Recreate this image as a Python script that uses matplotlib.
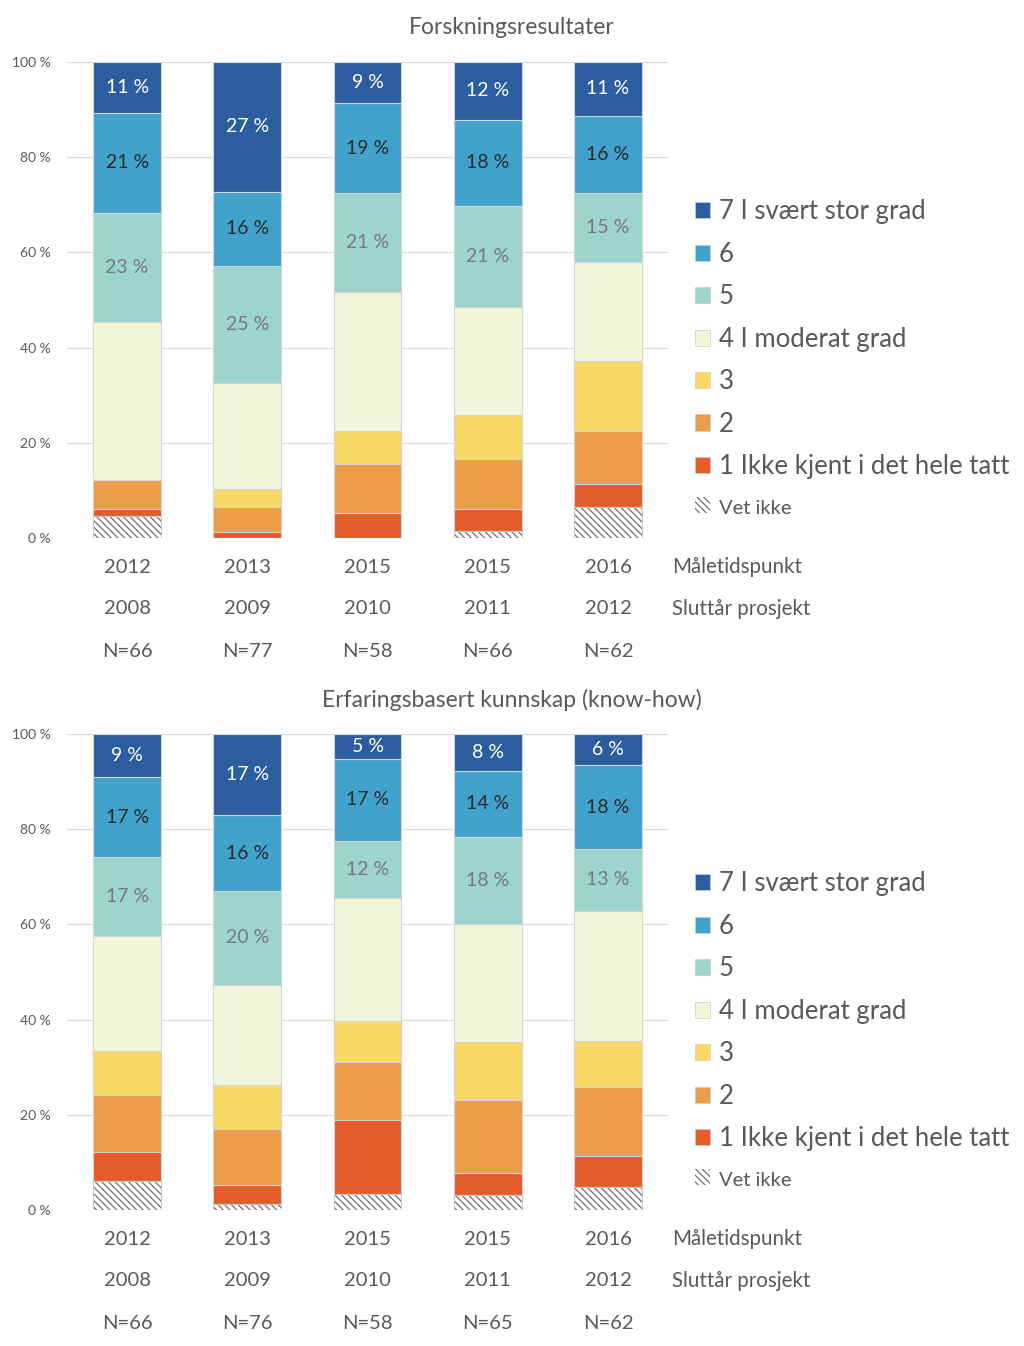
import matplotlib
matplotlib.use("Agg")
import matplotlib.pyplot as plt
from matplotlib.patches import Patch
import numpy as np

plt.rcParams['font.family'] = ['Lato', 'DejaVu Sans']
plt.rcParams['hatch.linewidth'] = 0.9

# ---- data ----
measure_years = ["2012", "2013", "2015", "2015", "2016"]
end_years = ["2008", "2009", "2010", "2011", "2012"]
n_top = ["N=66", "N=77", "N=58", "N=66", "N=62"]
n_bottom = ["N=66", "N=76", "N=58", "N=65", "N=62"]

series_names = ["Vet ikke", "1 Ikke kjent i det hele tatt", "2", "3",
                "4 I moderat grad", "5", "6", "7 I svært stor grad"]

# Forskningsresultater (percent), order: Vet ikke, 1..7
top_vet = [4.55, 0.0, 0.0, 1.52, 6.45]
top_1 = [1.52, 1.30, 5.17, 4.55, 4.84]
top_2 = [6.06, 5.19, 10.34, 10.61, 11.29]
top_3 = [0.0, 3.90, 6.90, 9.09, 14.52]
top_4 = [33.33, 22.08, 29.31, 22.73, 20.97]
top_5 = [22.73, 24.68, 20.69, 21.21, 14.52]
top_6 = [21.21, 15.58, 18.97, 18.18, 16.13]
top_7 = [10.61, 27.27, 8.62, 12.12, 11.29]

# Erfaringsbasert kunnskap (percent)
bot_vet = [6.06, 1.32, 3.45, 3.08, 4.84]
bot_1 = [6.06, 3.95, 15.52, 4.62, 6.45]
bot_2 = [12.12, 11.84, 12.07, 15.38, 14.52]
bot_3 = [9.09, 9.21, 8.62, 12.31, 9.68]
bot_4 = [24.24, 21.05, 25.86, 24.62, 27.42]
bot_5 = [16.67, 19.74, 12.07, 18.46, 12.90]
bot_6 = [16.67, 15.79, 17.24, 13.85, 17.74]
bot_7 = [9.09, 17.11, 5.17, 7.69, 6.45]

yticks = [0, 20, 40, 60, 80, 100]
ytick_labels = ["0 %", "20 %", "40 %", "60 %", "80 %", "100 %"]

titles = ["Forskningsresultater", "Erfaringsbasert kunnskap (know-how)"]

colors = ["white", "#E35C29", "#EE9C48", "#F8D966", "#F1F5D9",
          "#9DD4CD", "#41A3CC", "#2C5E9F"]
label_colors = {5: "#7a7a7a", 6: "#2b2b2b", 7: "white"}
TXT = "#595959"
HATCH = "\\\\\\\\\\"

fig = plt.figure(figsize=(10.24, 13.46), dpi=100)

panels = [
    ([top_vet, top_1, top_2, top_3, top_4, top_5, top_6, top_7], n_top, 0.6003, titles[0], 28),
    ([bot_vet, bot_1, bot_2, bot_3, bot_4, bot_5, bot_6, bot_7], n_bottom, 0.1010, titles[1], 700),
]

x = np.arange(len(measure_years))
for series, nlabels, bottom_frac, title, title_px in panels:
    ax = fig.add_axes([0.0654, bottom_frac, 0.587, 0.3536])
    base = np.zeros(len(x))
    for i, vals in enumerate(series):
        vals = np.array(vals)
        if i == 0:
            ax.bar(x, vals, 0.565, bottom=base, color="white", edgecolor="#707070",
                   hatch=HATCH, linewidth=0.0, zorder=3)
            ax.bar(x, vals, 0.565, bottom=base, facecolor="none", edgecolor="#c8c8c8",
                   linewidth=0.8, zorder=4)
        else:
            ax.bar(x, vals, 0.565, bottom=base, color=colors[i], edgecolor="#d4d4d4",
                   linewidth=0.8, zorder=3)
        if i in label_colors:
            for xi, b, v in zip(x, base, vals):
                if v > 0:
                    ax.text(xi, b + v / 2, f"{int(np.floor(v + 0.5))} %", ha="center",
                            va="center", fontsize=14, color=label_colors[i], zorder=5)
        base = base + vals

    ax.set_xlim(-0.5, 4.5)
    ax.set_ylim(0, 100)
    ax.set_yticks(yticks)
    ax.set_yticklabels(ytick_labels, fontsize=10, color=TXT)
    ax.tick_params(axis="y", length=0, pad=11.5)
    ax.set_xticks([])
    ax.grid(axis="y", color="#d9d9d9", linewidth=0.9, zorder=0)
    for s in ax.spines.values():
        s.set_visible(False)

    rows = [measure_years, end_years, nlabels]
    offs = [-0.061, -0.149, -0.239]
    for row, off in zip(rows, offs):
        for xi, lab in zip(x, row):
            ax.text(xi, off, lab, transform=ax.get_xaxis_transform(), ha="center",
                    va="center", fontsize=14.5, color=TXT)
    ax.text(1.0065, offs[0], "Måletidspunkt", transform=ax.transAxes, ha="left",
            va="center", fontsize=14.8, color=TXT)
    ax.text(1.0065, offs[1], "Sluttår prosjekt", transform=ax.transAxes, ha="left",
            va="center", fontsize=14.8, color=TXT)

    fig.text(0.5, 1 - title_px / 1346, title, ha="center", va="center",
             fontsize=16.5, color=TXT)

    handles = []
    for i in range(7, -1, -1):
        if i == 0:
            handles.append(Patch(facecolor="white", edgecolor="#707070", hatch=HATCH,
                                 linewidth=0, label=series_names[i]))
        else:
            handles.append(Patch(facecolor=colors[i], edgecolor="#cccccc", linewidth=0.5,
                                 label=series_names[i]))
    leg = ax.legend(handles=handles, loc="center left", bbox_to_anchor=(1.027, 0.378),
                    frameon=False, fontsize=18.5, handlelength=0.6, handleheight=0.6,
                    handletextpad=0.35, labelspacing=0.68, borderaxespad=0)
    for t in leg.get_texts():
        t.set_color(TXT)
    leg.get_texts()[-1].set_fontsize(14.5)

fig.savefig("out.png", dpi=100, facecolor="white")
